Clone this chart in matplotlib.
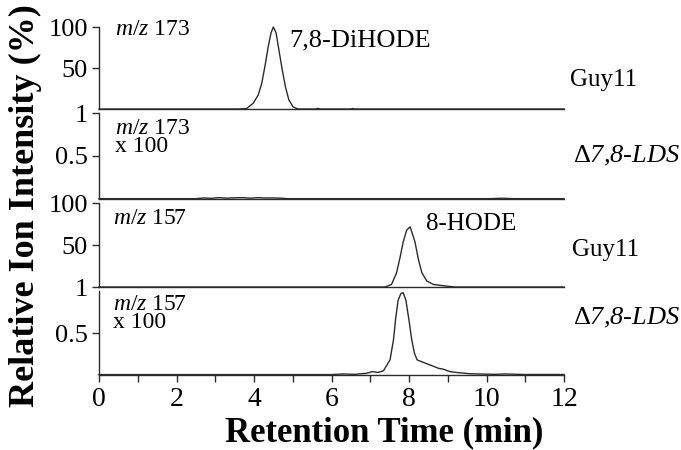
import matplotlib
matplotlib.use('Agg')
import matplotlib.pyplot as plt

plt.rcParams['font.family'] = ['Liberation Serif', 'DejaVu Serif']
plt.rcParams['mathtext.fontset'] = 'custom'
plt.rcParams['mathtext.it'] = 'Liberation Serif:italic'
plt.rcParams['mathtext.rm'] = 'Liberation Serif'

# m/z 173, Guy11 (7,8-DiHODE)
t_173_wt = [0, 3.6, 3.81, 3.98, 4.11, 4.20, 4.28, 4.37, 4.44, 4.50, 4.57, 4.64,
            4.73, 4.81, 4.90, 5.01, 5.14, 5.6, 5.65, 5.7, 6.5, 6.55, 6.6, 12]
i_173_wt = [1, 1, 1.5, 8, 18, 32, 52, 77, 93, 100, 93, 73,
            48, 28, 12, 3.4, 1, 1, 1.8, 1, 1, 1.6, 1, 1]

# m/z 173 x100, delta 7,8-LDS
t_173_ko = [0, 2.5, 2.7, 2.9, 3.1, 3.3, 3.5, 3.7, 3.9, 4.1, 4.3, 4.5, 4.7, 4.85,
            10.1, 10.4, 10.7, 12]
i_173_ko = [0.004, 0.004, 0.012, 0.008, 0.016, 0.01, 0.014, 0.016, 0.01, 0.016,
            0.012, 0.012, 0.01, 0.004, 0.004, 0.009, 0.004, 0.004]

# m/z 157, Guy11 (8-HODE)
t_157_wt = [0, 7.38, 7.55, 7.68, 7.77, 7.85, 7.94, 8.03, 8.155, 8.24, 8.33,
            8.46, 8.63, 8.97, 9.19, 12]
i_157_wt = [1, 1, 4, 18, 36, 54, 68, 72, 54, 34, 18,
            8, 4, 2, 1, 1]

# m/z 157 x100, delta 7,8-LDS
t_157_ko = [0, 6.0, 6.3, 6.6, 6.9, 7.05, 7.2, 7.34, 7.51, 7.60, 7.66, 7.72,
            7.79, 7.85, 7.92, 8.01, 8.07, 8.14, 8.21, 8.37, 8.54, 8.76,
            8.88, 9.06, 9.23, 9.57, 10.2, 10.5, 11.0, 12]
i_157_ko = [0.005, 0.005, 0.012, 0.008, 0.02, 0.04, 0.03, 0.05, 0.18, 0.42, 0.69, 0.89,
            0.97, 0.98, 0.89, 0.62, 0.42, 0.26, 0.18, 0.15, 0.12, 0.08,
            0.07, 0.04, 0.03, 0.015, 0.008, 0.012, 0.006, 0.006]

W, H = 681, 450
fig = plt.figure(figsize=(W / 100, H / 100), dpi=100)


def add_panel(top, bottom):
    return fig.add_axes([99 / W, 1 - bottom / H, 465 / W, (bottom - top) / H])


line_c = '#2b2b2b'
panels = [
    (add_panel(27, 109), t_173_wt, i_173_wt, (1, 100), [50, 100], ['50', '100']),
    (add_panel(113, 199), t_173_ko, i_173_ko, (0, 1), [0.5, 1], ['0.5', '1']),
    (add_panel(203, 287), t_157_wt, i_157_wt, (1, 100), [1, 50, 100], ['1', '50', '100']),
    (add_panel(291, 375), t_157_ko, i_157_ko, (0, 1), [0.5], ['0.5']),
]

for i, (ax, t, y, ylim, yt, ytl) in enumerate(panels):
    ax.plot(t, y, color=line_c, lw=1.0, clip_on=False)
    ax.set_xlim(0, 12)
    ax.set_ylim(*ylim)
    ax.set_yticks(yt)
    ax.set_yticklabels(ytl)
    for s in ['top', 'right']:
        ax.spines[s].set_visible(False)
    for s in ['left', 'bottom']:
        ax.spines[s].set_color(line_c)
        ax.spines[s].set_linewidth(1.0)
    ax.tick_params(axis='y', direction='out', length=5, width=1, color=line_c,
                   labelsize=19, pad=3)
    if i < 3:
        ax.set_xticks([])
    else:
        ax.set_xticks(range(0, 13, 2))
        ax.set_xticks(range(1, 12, 2), minor=True)
        ax.tick_params(axis='x', which='both', direction='out', length=5, width=1,
                       color=line_c, labelsize=20, pad=4)


def px_text(x, y, s, **kw):
    fig.text(x / W, 1 - y / H, s, **kw)


px_text(115, 19, '$m/z$ 173', fontsize=17, va='top')
px_text(289, 40, '7,8-DiHODE', fontsize=19, va='center')
px_text(570, 80, 'Guy11', fontsize=18, va='center')
px_text(115, 118, '$m/z$ 173\nx 100', fontsize=17, va='top', linespacing=0.8)
px_text(573, 156, r'$\Delta$7,8-LDS', fontsize=19, va='center', style='italic')
px_text(113, 208, '$m/z$ 157', fontsize=17, va='top')
px_text(426, 224, '8-HODE', fontsize=18, va='center')
px_text(572, 250, 'Guy11', fontsize=18, va='center')
px_text(113, 294, '$m/z$ 157\nx 100', fontsize=17, va='top', linespacing=0.8)
px_text(573, 318, r'$\Delta$7,8-LDS', fontsize=19, va='center', style='italic')

px_text(25, 206, 'Relative Ion Intensity (%)', fontsize=26, fontweight='bold',
        rotation=90, ha='center', va='center')
px_text(384, 433, 'Retention Time (min)', fontsize=25, fontweight='bold',
        ha='center', va='center')

fig.savefig('out.png', dpi=100)
